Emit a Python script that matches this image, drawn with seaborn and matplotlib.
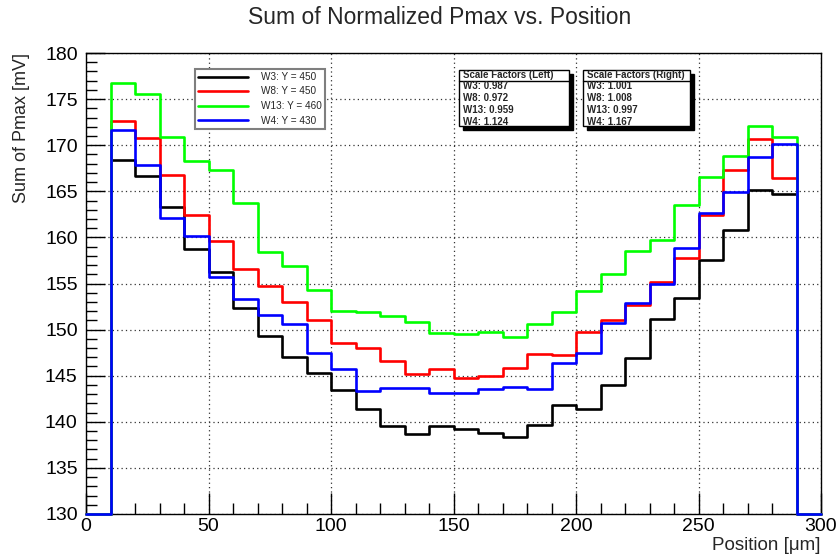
import numpy as np
import pandas as pd
import matplotlib
matplotlib.use("Agg")
import matplotlib.pyplot as plt
from matplotlib.patches import Rectangle
from matplotlib.lines import Line2D
from matplotlib.ticker import MultipleLocator
import seaborn as sns

# ---- data -------------------------------------------------------------
bin_edges = np.arange(0, 310, 10)          # 30 bins, 0..300 um (first/last empty)

w3_sum = [168.4, 166.7, 163.3, 158.7, 156.3, 152.3, 149.3, 147.0, 145.3, 143.5,
          141.4, 139.5, 138.7, 139.5, 139.2, 138.8, 138.4, 139.6, 141.85, 141.4,
          144.0, 146.9, 151.1, 153.4, 157.6, 160.8, 165.1, 164.7]
w8_sum = [172.6, 170.8, 166.8, 162.4, 159.6, 156.6, 154.7, 153.0, 151.0, 148.5,
          148.0, 146.6, 145.2, 145.7, 144.8, 145.0, 145.8, 147.4, 147.2, 149.7,
          151.0, 152.7, 155.2, 157.8, 162.4, 167.3, 170.65, 166.4]
w13_sum = [176.7, 175.6, 170.9, 168.3, 167.3, 163.7, 158.4, 156.9, 154.3, 152.0,
           151.9, 151.5, 150.8, 149.6, 149.5, 149.7, 149.2, 150.65, 151.9, 154.2,
           156.0, 158.55, 159.7, 163.5, 166.5, 168.8, 172.1, 170.9]
w4_sum = [171.6, 167.9, 162.1, 160.2, 155.7, 153.3, 151.6, 150.6, 147.5, 145.7,
          143.3, 143.7, 143.7, 143.1, 143.1, 143.6, 143.8, 143.55, 146.4, 147.5,
          150.7, 152.9, 154.9, 158.8, 162.6, 164.9, 168.7, 170.1]

series_labels = ["W3: Y = 450", "W8: Y = 450", "W13: Y = 460", "W4: Y = 430"]
series_values = [w3_sum, w8_sum, w13_sum, w4_sum]
series_colors = ["#000000", "#ff0000", "#00ff00", "#0000ff"]

scale_left_title = "Scale Factors (Left)"
scale_left = ["W3: 0.987", "W8: 0.972", "W13: 0.959", "W4: 1.124"]
scale_right_title = "Scale Factors (Right)"
scale_right = ["W3: 1.001", "W8: 1.008", "W13: 0.997", "W4: 1.167"]

Y_MIN, Y_MAX = 130, 180
X_MIN, X_MAX = 0, 300

# ---- long-form table for seaborn (step outline, empty end bins) ---------
rows = []
for lab, vals in zip(series_labels, series_values):
    contents = np.concatenate([[0.0], vals, [0.0]])
    contents = np.maximum(contents, Y_MIN)          # empty bins sit on the frame
    ys = np.append(contents, contents[-1])
    for x, y in zip(bin_edges, ys):
        rows.append({"pos": x, "sum": y, "wafer": lab})
df = pd.DataFrame(rows)

# ---- figure ---------------------------------------------------------------
sns.set_theme(style="white")
plt.rcParams["font.family"] = ["Liberation Sans", "DejaVu Sans"]

W, H = 838, 558
fig = plt.figure(figsize=(W / 100, H / 100), dpi=100)

def fx(x):
    return x / W

def fy(y):
    return 1 - y / H

ax_l, ax_r, ax_t, ax_b = 86, 821, 53, 514
ax = fig.add_axes([fx(ax_l), fy(ax_b), fx(ax_r) - fx(ax_l), fy(ax_t) - fy(ax_b)])

sns.lineplot(data=df, x="pos", y="sum", hue="wafer", hue_order=series_labels,
             palette=dict(zip(series_labels, series_colors)), estimator=None,
             sort=False, drawstyle="steps-post", linewidth=1.9, legend=False,
             ax=ax)
for ln in ax.lines:
    ln.set_clip_on(False)
    ln.set_zorder(5)

ax.set_xlim(X_MIN, X_MAX)
ax.set_ylim(Y_MIN, Y_MAX)
ax.xaxis.set_major_locator(MultipleLocator(50))
ax.xaxis.set_minor_locator(MultipleLocator(10))
ax.yaxis.set_major_locator(MultipleLocator(5))
ax.yaxis.set_minor_locator(MultipleLocator(1))
ax.tick_params(which="both", direction="in", top=False, right=False,
               bottom=True, left=True, colors="black", labelsize=14, width=1)
ax.tick_params(axis="x", which="major", length=15, pad=3)
ax.tick_params(axis="x", which="minor", length=8)
ax.tick_params(axis="y", which="major", length=14, pad=6)
ax.tick_params(axis="y", which="minor", length=8)
ax.grid(True, which="major", color="#333333", linestyle=(0, (1, 2.5)), linewidth=0.9)
for sp in ax.spines.values():
    sp.set_color("black")
    sp.set_linewidth(1.0)
ax.set_xlabel("")
ax.set_ylabel("")

# axis titles, ROOT-style placement
fig.text(fx(820), fy(546), "Position [\u03bcm]", ha="right", va="center", fontsize=13.5)
fig.text(fx(22), fy(53), "Sum of Pmax [mV]", ha="center", va="top", rotation=90,
         fontsize=13)
fig.text(fx(440), fy(17), "Sum of Normalized Pmax vs. Position", ha="center",
         va="center", fontsize=16.5)

# ---- legend ---------------------------------------------------------------
handles = [Line2D([], [], color=c, linewidth=1.9) for c in series_colors]
leg = ax.legend(handles, series_labels, loc="upper left",
                bbox_to_anchor=(fx(195), fy(69)), bbox_transform=fig.transFigure,
                fontsize=7.2, frameon=True, fancybox=False, framealpha=1,
                edgecolor="#7f7f7f", handlelength=5.0, handletextpad=1.3,
                labelspacing=0.45, borderpad=0.3, borderaxespad=0)
leg.get_frame().set_linewidth(1.5)

# ---- scale factor boxes -----------------------------------------------------
def stat_box(x0, x1, y0, y1, title, lines):
    sh = 4
    fig.patches.append(Rectangle((fx(x0 + sh), fy(y1 + sh)), fx(x1) - fx(x0),
                                 fy(y0) - fy(y1), transform=fig.transFigure,
                                 facecolor="black", edgecolor="black", zorder=10))
    fig.patches.append(Rectangle((fx(x0), fy(y1)), fx(x1) - fx(x0),
                                 fy(y0) - fy(y1), transform=fig.transFigure,
                                 facecolor="white", edgecolor="black",
                                 linewidth=1.0, zorder=11))
    fig.lines.append(Line2D([fx(x0), fx(x1)], [fy(y0 + 11), fy(y0 + 11)],
                            transform=fig.transFigure, color="black",
                            linewidth=1.0, zorder=12))
    fig.text(fx(x0 + 4), fy(y0 + 5.5), title, fontsize=7.0, fontweight="bold",
             ha="left", va="center", zorder=13)
    for i, t in enumerate(lines):
        fig.text(fx(x0 + 4), fy(y0 + 16.5 + 11.7 * i), t, fontsize=7.0,
                 fontweight="bold", ha="left", va="center", zorder=13)

stat_box(459, 569, 70, 126, scale_left_title, scale_left)
stat_box(583, 690, 70, 126, scale_right_title, scale_right)

fig.savefig("out.png", dpi=100)
